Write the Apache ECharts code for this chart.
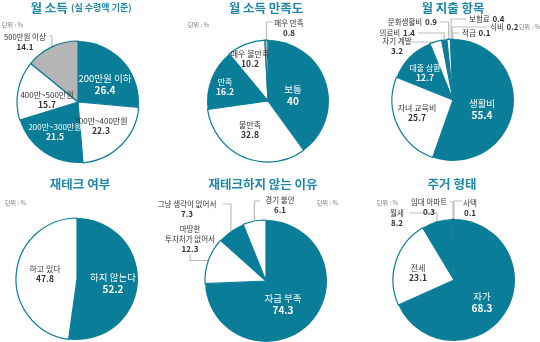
<!DOCTYPE html>
<html><head><meta charset="utf-8">
<script src="https://cdn.jsdelivr.net/npm/echarts@6/dist/echarts.min.js"></script>
<style>html,body{margin:0;padding:0;background:#fff}#c{width:540px;height:342px}</style>
</head><body><div id="c"></div>
<script>
// ---- data ----
const incomeNames = ['200만원 이하', '300만~400만원', '200만~300만원', '400만~500만원', '500만원 이상'];
const incomeValues = [26.4, 22.3, 21.5, 15.7, 14.1];
const satisNames = ['보통', '불만족', '만족', '매우 불만족', '매우 만족'];
const satisValues = [40, 32.8, 16.2, 10.2, 0.8];
const spendNames = ['생활비', '자녀 교육비', '대출 상환', '자기 계발', '의료비', '문화생활비', '보험료', '식비', '적금'];
const spendValues = [55.4, 25.7, 12.7, 3.2, 1.4, 0.9, 0.4, 0.2, 0.1];
const investNames = ['하지 않는다', '하고 있다'];
const investValues = [52.2, 47.8];
const reasonNames = ['자금 부족', '마땅한\n투자처가 없어서', '그냥 생각이 없어서', '경기 불안'];
const reasonValues = [74.3, 12.3, 7.3, 6.1];
const houseNames = ['자가', '전세', '월세', '임대 아파트', '사택'];
const houseValues = [68.3, 23.1, 8.2, 0.3, 0.1];
const chartTitles = ['월 소득', '월 소득 만족도', '월 지출 항목', '재테크 여부', '재테크하지 않는 이유', '주거 형태'];
const incomeSubtitle = '(실 수령액 기준)';
const unitText = '단위 : %';

// ---- style / layout ----
const TEAL = '#0a7e99', TITLE = '#1f88aa', GRAY = '#b5b5b5', DARK = '#333', LINE = '#bdbdbd';
const FONT = '"Noto Sans CJK KR", "Noto Sans", sans-serif';
const R = 61;
const panels = [
  { names: incomeNames, values: incomeValues, center: [78, 102], fills: 'twtwg', title: [81, 8], unit: [2, 25, 'left'],
    labels: [{x:105,y:84,big:1},{x:101,y:126},{x:55,y:132},{x:47,y:100},{x:25,y:42,out:1,ly:36,ex:49}] },
  { names: satisNames, values: satisValues, center: [268, 101], fills: 'twtwg', title: [266, 8], unit: [188, 25, 'left'],
    labels: [{x:293,y:95,big:1},{x:250,y:130},{x:225,y:87},{x:250,y:59},{x:289,y:28,out:1,ly:22,ex:273}] },
  { names: spendNames, values: spendValues, center: [453, 100], fills: 'twtwtwtwt', title: [453, 8], unit: [540, 27, 'right'],
    labels: [{x:482,y:109,big:1},{x:417,y:113},{x:425,y:73},
      {x:397,y:46,out:1,ly:42,ex:412},
      {x:415,y:33,out:1,single:1,align:'right',ly:33,ex:418},
      {x:437,y:22,out:1,single:1,align:'right',ly:22,ex:440},
      {x:469,y:19,out:1,single:1,align:'left',ly:19,ex:466},
      {x:490,y:27,out:1,single:1,align:'left',ly:27,ex:487},
      {x:462,y:33,out:1,single:1,align:'left',ly:33,ex:459}] },
  { names: investNames, values: investValues, center: [77, 279], fills: 'tw', title: [80, 184], unit: [5, 203, 'left'],
    labels: [{x:113,y:283,big:1},{x:45,y:274}] },
  { names: reasonNames, values: reasonValues, center: [266, 281], fills: 'twtw', title: [263, 184], unit: [317, 203, 'left'],
    labels: [{x:283,y:304,big:1},
      {x:190,y:239,out:1,hv:[190,254]},
      {x:187,y:209,out:1,ly:204,ex:223},
      {x:280,y:205,out:1,ly:201,ex:260}] },
  { names: houseNames, values: houseValues, center: [454, 280], fills: 'twtwt', title: [452, 184], unit: [377, 203, 'left'],
    labels: [{x:482,y:302,big:1},{x:418,y:273},
      {x:397,y:218,out:1,ly:213,ex:409},
      {x:429,y:207,out:1,ly:202,ex:450},
      {x:470,y:208,out:1,ly:201,ex:462}] }
];

function edgePoint(panel, idx) {
  const total = panel.values.reduce((a, b) => a + b, 0);
  let cum = 0;
  for (let i = 0; i < idx; i++) cum += panel.values[i];
  const a = (cum + panel.values[idx] / 2) / total * Math.PI * 2;
  return [panel.center[0] + R * Math.sin(a), panel.center[1] - R * Math.cos(a)];
}

const series = panels.map((panel) => {
  const data = panel.names.map((name, i) => {
    const f = panel.fills[i];
    const L = panel.labels[i];
    const fill = f === 't' ? TEAL : (f === 'g' ? GRAY : '#fff');
    return {
      name, value: panel.values[i],
      itemStyle: { color: fill, borderColor: TEAL, borderWidth: f === 't' ? 0 : 1.2 },
      label: { position: L.out ? 'outside' : 'inside', color: (f === 't' && !L.out) ? '#fff' : DARK },
      labelLine: { show: !!L.out }
    };
  });
  return {
    type: 'pie', radius: R, center: panel.center, startAngle: 90, clockwise: true,
    avoidLabelOverlap: false, silent: true, data,
    label: {
      show: true, fontFamily: FONT,
      formatter: (p) => {
        const L = panel.labels[p.dataIndex];
        if (L.single) return '{o|' + p.name + '} {ov|' + p.value + '}';
        if (L.big) return '{N|' + p.name + '}\n{V|' + p.value + '}';
        if (L.out) return '{o|' + p.name + '}\n{ov|' + p.value + '}';
        return '{n|' + p.name + '}\n{v|' + p.value + '}';
      },
      rich: {
        N: { fontSize: 9.5, lineHeight: 12, fontFamily: FONT, align: 'center' },
        V: { fontSize: 10, fontWeight: 'bold', lineHeight: 12, fontFamily: FONT, align: 'center' },
        n: { fontSize: 8, lineHeight: 10, fontFamily: FONT, align: 'center' },
        v: { fontSize: 8.5, fontWeight: 'bold', lineHeight: 10, fontFamily: FONT, align: 'center' },
        o: { fontSize: 7.5, lineHeight: 9.5, fontFamily: FONT, align: 'center' },
        ov: { fontSize: 8, fontWeight: 'bold', lineHeight: 9.5, fontFamily: FONT, align: 'center' }
      }
    },
    labelLine: { lineStyle: { color: LINE, width: 1.2 } },
    labelLayout: (p) => {
      const L = panel.labels[p.dataIndex];
      const res = { x: L.x, y: L.y, align: L.align || 'center', verticalAlign: 'middle' };
      if (L.out) {
        const p0 = edgePoint(panel, p.dataIndex);
        if (L.hv) res.labelLinePoints = [p0, [L.hv[0], p0[1]], [L.hv[0], L.hv[1]]];
        else res.labelLinePoints = [p0, [p0[0], L.ly], [L.ex, L.ly]];
      }
      return res;
    }
  };
});

const graphics = [];
panels.forEach((panel, k) => {
  const text = k === 0 ? '{a|' + chartTitles[k] + '} {b|' + incomeSubtitle + '}' : '{a|' + chartTitles[k] + '}';
  graphics.push({ type: 'text', x: panel.title[0], y: panel.title[1], silent: true,
    style: { text, align: 'center', verticalAlign: 'middle', fill: TITLE,
      rich: { a: { fontSize: 12.5, fontWeight: 'bold', fontFamily: FONT, fill: TITLE },
              b: { fontSize: 9, fontWeight: 'bold', fontFamily: FONT, fill: TITLE } } } });
  graphics.push({ type: 'text', x: panel.unit[0], y: panel.unit[1], silent: true,
    style: { text: unitText, align: panel.unit[2], verticalAlign: 'middle', fill: '#777', fontSize: 6, fontFamily: FONT } });
});

const chart = echarts.init(document.getElementById('c'), null, { renderer: 'canvas' });
chart.setOption({ animation: false, backgroundColor: '#fff', series, graphic: graphics });
</script></body></html>
